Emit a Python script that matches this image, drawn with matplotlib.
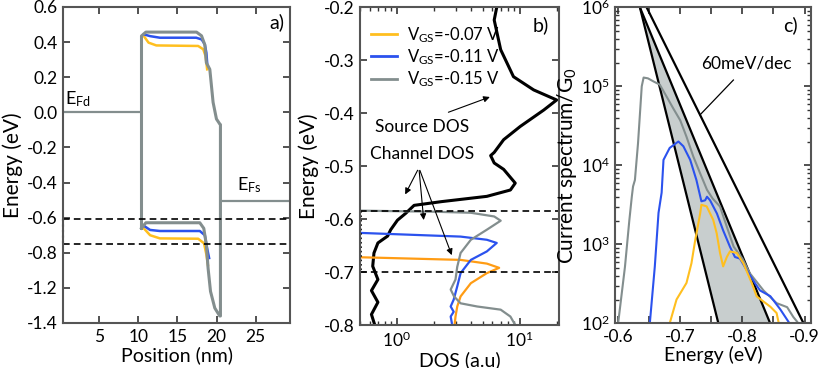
import matplotlib
matplotlib.use("Agg")
import matplotlib.pyplot as plt
import numpy as np

plt.rcParams['font.family'] = ['Lato', 'DejaVu Sans']
plt.rcParams['mathtext.default'] = 'regular'
plt.rcParams['axes.unicode_minus'] = False

YEL = '#ffbf1f'
ORA = '#ff9c14'
BLU = '#2b52ee'
GRY = '#838e8e'

# ---------------- panel a: band profile ----------------
efd_x = [0.4, 10.4]
efd_y = [0.0, 0.0]
efs_x = [20.8, 29.4]
efs_y = [-0.506, -0.506]

# gray (V=-0.15): closed loop  left edge -> CB -> right edge -> VB back
gray_a_x = [10.4, 10.4, 10.96, 14.0, 17.44, 18.08, 18.5, 18.7, 19.14, 19.56, 19.99, 20.41,
            20.5, 20.5, 20.41, 19.78, 19.23, 18.92, 18.7, 18.37, 17.86, 14.0, 10.96, 10.4]
gray_a_y = [-0.66, 0.435, 0.457, 0.457, 0.457, 0.436, 0.385, 0.283, 0.245, 0.057, -0.038, -0.066,
            -0.07, -1.16, -1.16, -1.115, -1.02, -0.888, -0.755, -0.661, -0.629, -0.629, -0.629, -0.66]

blue_cb_x = [10.7, 11.5, 12.75, 17.4, 18.1, 18.5, 18.7, 18.8]
blue_cb_y = [0.444, 0.434, 0.425, 0.425, 0.415, 0.387, 0.34, 0.283]
yel_cb_x = [10.7, 11.3, 12.3, 17.65, 18.3, 18.6, 18.8]
yel_cb_y = [0.434, 0.397, 0.381, 0.378, 0.359, 0.32, 0.245]
blue_vb_x = [10.7, 11.5, 12.75, 17.86, 18.5, 18.8, 19.05]
blue_vb_y = [-0.646, -0.67, -0.676, -0.676, -0.70, -0.775, -0.83]
yel_vb_x = [10.7, 11.5, 12.75, 17.65, 18.4, 18.7, 18.9]
yel_vb_y = [-0.661, -0.70, -0.718, -0.72, -0.746, -0.81, -0.87]

a_box = [-0.605, -0.75]
a_yticks = [0.6, 0.4, 0.2, 0.0, -0.2, -0.4, -0.6, -0.8, -1.0, -1.2]
a_ylabels = ['0.6', '0.4', '0.2', '0.0', '-0.2', '-0.4', '-0.6', '-0.8', '-1.2', '-1.4']
a_xticks = [5, 10, 15, 20, 25]

# ---------------- panel b: DOS ----------------
src_dos = [6.5, 6.2, 7.0, 8.9, 13, 20, 15.7, 10.1, 7.4, 6.2, 5.8, 6.2, 7.4, 9.2, 8.4, 5.4, 2.3,
           1.38, 1.18, 1.01, 0.89, 0.84, 0.70, 0.65, 0.635, 0.70, 0.62, 0.70, 0.62, 0.66]
src_e = [-0.2, -0.224, -0.28, -0.331, -0.356, -0.375, -0.394, -0.425, -0.45, -0.474, -0.48,
         -0.494, -0.506, -0.532, -0.545, -0.557, -0.567, -0.574, -0.589, -0.602, -0.62, -0.632,
         -0.645, -0.664, -0.689, -0.714, -0.735, -0.757, -0.78, -0.8]

gray_b_dos = [0.5, 2.0, 4.0, 6.2, 7.0, 5.4, 4.0, 3.3, 3.1, 3.0, 2.74, 2.92, 3.3, 4.5, 7.0, 8.4, 9.2]
gray_b_e = [-0.584, -0.586, -0.588, -0.595, -0.603, -0.62, -0.639, -0.664, -0.69, -0.714,
            -0.733, -0.746, -0.759, -0.765, -0.771, -0.784, -0.8]
blue_b_dos = [0.5, 3.3, 5.4, 6.5, 5.4, 4.0, 3.3, 3.1, 2.9, 2.74, 2.9, 2.74, 2.8]
blue_b_e = [-0.626, -0.633, -0.639, -0.645, -0.661, -0.677, -0.702, -0.727, -0.752, -0.765,
            -0.775, -0.784, -0.796]
ora_b_dos = [0.5, 3.3, 5.4, 6.8, 5.4, 4.0, 3.3, 3.1, 3.0, 2.95]
ora_b_e = [-0.672, -0.677, -0.684, -0.692, -0.702, -0.721, -0.746, -0.765, -0.784, -0.8]
b_box = [-0.584, -0.70]
vgs_labels = ['V$_{GS}$=-0.07 V', 'V$_{GS}$=-0.11 V', 'V$_{GS}$=-0.15 V']

# ---------------- panel c: current spectrum ----------------
gray_c_e = [-0.600, -0.611, -0.618, -0.622, -0.624, -0.627, -0.632, -0.638, -0.641, -0.648,
            -0.657, -0.667, -0.678, -0.689, -0.700, -0.710, -0.721, -0.732, -0.743, -0.752,
            -0.764, -0.775, -0.786, -0.800, -0.812, -0.834, -0.855, -0.872, -0.882, -0.888]
gray_c_v = [1.0e2, 5.2e2, 2.0e3, 4.0e3, 5.4e3, 6.5e3, 1.9e4, 1.0e5, 1.29e5, 1.26e5, 1.15e5,
            1.05e5, 7.4e4, 5.2e4, 3.7e4, 2.3e4, 1.29e4, 7.9e3, 4.9e3, 3.8e3, 3.0e3, 1.66e3,
            9.3e2, 6.6e2, 4.3e2, 2.6e2, 1.8e2, 1.6e2, 1.2e2, 1.05e2]
blue_c_e = [-0.651, -0.659, -0.665, -0.670, -0.673, -0.683, -0.697, -0.705, -0.716, -0.726,
            -0.734, -0.740, -0.743, -0.748, -0.759, -0.769, -0.780, -0.788, -0.796, -0.807,
            -0.8205, -0.8285, -0.845, -0.861, -0.874]
blue_c_v = [1.0e2, 5.2e2, 2.5e3, 4.5e3, 1.17e4, 1.66e4, 2.0e4, 1.74e4, 1.17e4, 6.5e3, 3.5e3,
            3.6e3, 4.0e3, 3.6e3, 2.45e3, 1.5e3, 9.3e2, 6.9e2, 6.6e2, 4.7e2, 3.2e2, 2.6e2,
            2.2e2, 1.5e2, 1.05e2]
yel_c_e = [-0.683, -0.694, -0.710, -0.718, -0.724, -0.732, -0.734, -0.7425, -0.753, -0.7586,
           -0.764, -0.769, -0.775, -0.780, -0.791, -0.8016, -0.815, -0.823, -0.845, -0.855, -0.858]
yel_c_v = [100, 200, 324, 575, 1120, 2450, 3160, 3020, 2040, 1380, 776, 525, 692, 813, 776,
           575, 324, 219, 162, 135, 105]
line1_e = [-0.635, -0.7613]
line2_e = [-0.635, -0.8447]
line3_e = [-0.6458, -0.8984]
line_v = [1e6, 1e2]

fig = plt.figure(figsize=(8.3, 3.68), dpi=100)
axa = fig.add_axes([0.0763, 0.1223, 0.2731, 0.8587])
axb = fig.add_axes([0.4337, 0.1168, 0.2401, 0.8633])
axc = fig.add_axes([0.741, 0.1215, 0.2358, 0.8587])

for ax in (axa, axb, axc):
    ax.tick_params(direction='in', top=True, right=True, labelsize=12.5, length=5, width=1.2,
                   color='#333333', pad=4)
    ax.tick_params(which='minor', direction='in', top=True, right=True, length=3, width=1,
                   color='#333333')
    for s in ax.spines.values():
        s.set_linewidth(1.5)
        s.set_color('#555555')

# panel a
axa.plot(efd_x, efd_y, color=GRY, lw=1.6)
axa.plot(efs_x, efs_y, color=GRY, lw=1.6)
axa.plot(yel_cb_x, yel_cb_y, color=YEL, lw=1.8)
axa.plot(blue_cb_x, blue_cb_y, color=BLU, lw=1.8)
axa.plot(yel_vb_x, yel_vb_y, color=YEL, lw=1.8)
axa.plot(blue_vb_x, blue_vb_y, color=BLU, lw=1.8)
axa.plot(gray_a_x, gray_a_y, color=GRY, lw=2.2)
for yb in a_box:
    axa.axhline(yb, color='black', lw=1.2, ls=(0, (4, 2.5)))
axa.plot([0.4, 0.4], a_box, color='black', lw=1.5, ls=':', clip_on=False)
axa.text(2.3, 0.02, 'E$_{Fd}$', fontsize=13, ha='center', va='bottom')
axa.text(24.2, -0.47, 'E$_{Fs}$', fontsize=13, ha='center', va='bottom')
axa.text(0.94, 0.952, 'a)', transform=axa.transAxes, fontsize=14, ha='center', va='center')
axa.set_xlim(0.4, 29.4)
axa.set_ylim(-1.2, 0.6)
axa.set_xticks(a_xticks)
axa.set_yticks(a_yticks)
axa.set_yticklabels(a_ylabels)
axa.set_xlabel('Position (nm)', fontsize=14, labelpad=1)
axa.set_ylabel('Energy (eV)', fontsize=15, labelpad=3)

# panel b
axb.set_xscale('log')
axb.plot(src_dos, src_e, color='black', lw=2.2)
axb.plot(ora_b_dos, ora_b_e, color=ORA, lw=1.6)
axb.plot(blue_b_dos, blue_b_e, color=BLU, lw=1.6)
axb.plot(gray_b_dos, gray_b_e, color=GRY, lw=1.6)
for yb in b_box:
    axb.axhline(yb, color='black', lw=1.2, ls=(0, (4, 2.5)))
axb.plot([0.505, 0.505], b_box, color='black', lw=1.2, ls=':')
axb.plot([20.8, 20.8], b_box, color='black', lw=1.2, ls=':')
h1, = axb.plot([], [], color=YEL, lw=2)
h2, = axb.plot([], [], color=BLU, lw=2)
h3, = axb.plot([], [], color=GRY, lw=2)
axb.legend([h1, h2, h3], vgs_labels, loc='upper left', frameon=False, fontsize=12,
           handlelength=1.6, handletextpad=0.6, labelspacing=0.15,
           borderaxespad=0.0, bbox_to_anchor=(0.02, 0.965))
axb.text(1.6, -0.426, 'Source DOS', fontsize=12.5, ha='center', va='center')
axb.text(1.6, -0.477, 'Channel DOS', fontsize=12.5, ha='center', va='center')
arr = dict(arrowstyle='-|>', color='black', lw=0.8, mutation_scale=9)
axb.annotate('', xy=(6.0, -0.3675), xytext=(2.5, -0.40), arrowprops=arr)
for hx, hy in [(1.14, -0.558), (1.66, -0.607), (2.85, -0.673)]:
    axb.annotate('', xy=(hx, hy), xytext=(1.51, -0.503), arrowprops=arr)
axb.text(0.908, 0.943, 'b)', transform=axb.transAxes, fontsize=14, ha='center', va='center')
axb.set_xlim(0.5, 21)
axb.set_ylim(-0.8, -0.2)
axb.set_yticks([-0.8, -0.7, -0.6, -0.5, -0.4, -0.3, -0.2])
axb.set_xlabel('DOS (a.u)', fontsize=14, labelpad=1)
axb.set_ylabel('Energy (eV)', fontsize=15, labelpad=3)

# panel c
axc.set_yscale('log')
axc.fill([line1_e[0], line1_e[1], line2_e[1], line2_e[0]],
         [line_v[0], line_v[1], line_v[1], line_v[0]], color='#c8cece', lw=0)
axc.plot(line1_e, line_v, color='black', lw=1.6)
axc.plot(line2_e, line_v, color='black', lw=1.6)
axc.plot(line3_e, line_v, color='black', lw=1.6)
axc.plot(gray_c_e, gray_c_v, color=GRY, lw=1.5)
axc.plot(blue_c_e, blue_c_v, color=BLU, lw=1.5)
axc.plot(yel_c_e, yel_c_v, color=YEL, lw=1.5)
axc.plot([-0.7317, -0.7855], [4.34e4, 1.2e5], color='black', lw=0.9)
axc.text(-0.806, 1.97e5, '60meV/dec', fontsize=12.5, ha='center', va='center')
axc.text(0.894, 0.944, 'c)', transform=axc.transAxes, fontsize=14, ha='center', va='center')
axc.set_xlim(-0.595, -0.91)
axc.set_ylim(1e2, 1e6)
axc.set_xticks([-0.6, -0.65, -0.7, -0.75, -0.8, -0.85, -0.9])
axc.set_xticklabels(['-0.6', '', '-0.7', '', '-0.8', '', '-0.9'])
axc.set_xlabel('Energy (eV)', fontsize=14, labelpad=1)
axc.set_ylabel('Current spectrum/G$_0$', fontsize=15, labelpad=1)

fig.savefig('out.png', dpi=100)
